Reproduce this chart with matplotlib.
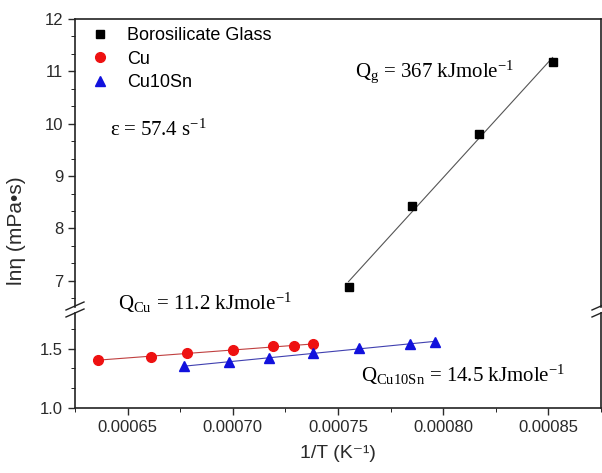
import numpy as np
import matplotlib
matplotlib.use('Agg')
import matplotlib.pyplot as plt
from matplotlib.lines import Line2D
from matplotlib.ticker import MultipleLocator, FormatStrFormatter

plt.rcParams['font.family'] = ['Liberation Sans', 'DejaVu Sans']
plt.rcParams['mathtext.fontset'] = 'custom'
plt.rcParams['mathtext.rm'] = 'Liberation Serif'
plt.rcParams['mathtext.it'] = 'Liberation Serif:italic'
plt.rcParams['mathtext.bf'] = 'Liberation Serif:bold'

# data
glass_x = [0.000755, 0.000785, 0.000817, 0.000852]
glass_y = [6.88, 8.42, 9.80, 11.18]
cu_x = [0.000636, 0.000661, 0.000678, 0.000700, 0.000719, 0.000729, 0.000738]
cu_y = [1.405, 1.430, 1.462, 1.488, 1.522, 1.525, 1.535]
sn_x = [0.000677, 0.000698, 0.000717, 0.000738, 0.000760, 0.000784, 0.000796]
sn_y = [1.352, 1.388, 1.420, 1.462, 1.505, 1.538, 1.558]

W, H = 602, 473
def box(l, t, r, b):
    return [l / W, 1 - b / H, (r - l) / W, (b - t) / H]

fig = plt.figure(figsize=(W / 100, H / 100), dpi=100)
ax_top = fig.add_axes(box(75, 19, 601, 307))
ax_bot = fig.add_axes(box(75, 313, 601, 408), sharex=ax_top)

tick_col = '#2a2a2a'
for ax in (ax_top, ax_bot):
    for s in ax.spines.values():
        s.set_linewidth(1.2)
        s.set_color('#222222')
    ax.tick_params(direction='out', colors=tick_col, labelsize=12, width=1.0)
    ax.tick_params(which='major', length=5)
    ax.tick_params(which='minor', length=3)
ax_top.spines['bottom'].set_visible(False)
ax_bot.spines['top'].set_visible(False)
ax_top.tick_params(axis='x', which='both', bottom=False, labelbottom=False)

ax_top.set_xlim(0.000625, 0.000875)
ax_top.set_ylim(6.5, 12)
ax_bot.set_ylim(1.0, 1.8)

ax_top.yaxis.set_major_locator(MultipleLocator(1))
ax_top.yaxis.set_minor_locator(MultipleLocator(1 / 3))
ax_bot.yaxis.set_major_locator(MultipleLocator(0.5))
ax_bot.yaxis.set_minor_locator(MultipleLocator(0.5 / 3))
ax_bot.yaxis.set_major_formatter(FormatStrFormatter('%.1f'))
ax_bot.xaxis.set_major_locator(MultipleLocator(0.00005))
ax_bot.xaxis.set_minor_locator(MultipleLocator(0.000025))
ax_bot.xaxis.set_major_formatter(FormatStrFormatter('%.5f'))

# linear fits
def fit_line(ax, x, y, col):
    p = np.polyfit(x, y, 1)
    xx = np.array([min(x), max(x)])
    ax.plot(xx, np.polyval(p, xx), color=col, lw=0.8, zorder=2)

fit_line(ax_top, glass_x, glass_y, '#555555')
fit_line(ax_bot, cu_x, cu_y, '#c04040')
fit_line(ax_bot, sn_x, sn_y, '#4040b0')

h1, = ax_top.plot(glass_x, glass_y, 's', color='black', ms=6, ls='none', zorder=3)
h2, = ax_bot.plot(cu_x, cu_y, 'o', color='#ee1111', ms=7, ls='none', zorder=3)
h3, = ax_bot.plot(sn_x, sn_y, '^', color='#1111dd', ms=7.5, ls='none', zorder=3)

ax_top.legend([h1, h2, h3], ['Borosilicate Glass', 'Cu', 'Cu10Sn'],
              loc='upper left', bbox_to_anchor=(0.017, 0.997), frameon=False,
              fontsize=13, handlelength=1.0, handletextpad=1.0,
              labelspacing=0.36, borderaxespad=0)

# annotations
fig.text(110 / W, 1 - 130 / H, 'ε = 57.4 s$^{-1}$', family='Liberation Serif',
         fontsize=15, va='center', ha='left')
fig.text(355 / W, 1 - 72 / H, r'Q$_\mathrm{g}$ = 367 kJmole$^{-1}$',
         family='Liberation Serif', fontsize=15, va='center', ha='left')
fig.text(118 / W, 1 - 303 / H, r'Q$_\mathrm{Cu}$ = 11.2 kJmole$^{-1}$',
         family='Liberation Serif', fontsize=15, va='center', ha='left')
fig.text(361 / W, 1 - 375 / H, r'Q$_\mathrm{Cu10Sn}$ = 14.5 kJmole$^{-1}$',
         family='Liberation Serif', fontsize=15, va='center', ha='left')

# axis labels
fig.text(17 / W, 1 - 231 / H, 'lnη (mPa•s)', rotation=90, fontsize=15,
         va='center', ha='center', color=tick_col)
ax_bot.set_xlabel('1/T (K⁻¹)', fontsize=14, color=tick_col, labelpad=7)

# break marks
for xb in (75, 601):
    for yb in (306, 313):
        fig.add_artist(Line2D([(xb - 9) / W, (xb + 9) / W],
                              [1 - (yb + 4) / H, 1 - (yb - 4) / H],
                              color='#222222', lw=1.0))

plt.savefig('out.png', dpi=100)
